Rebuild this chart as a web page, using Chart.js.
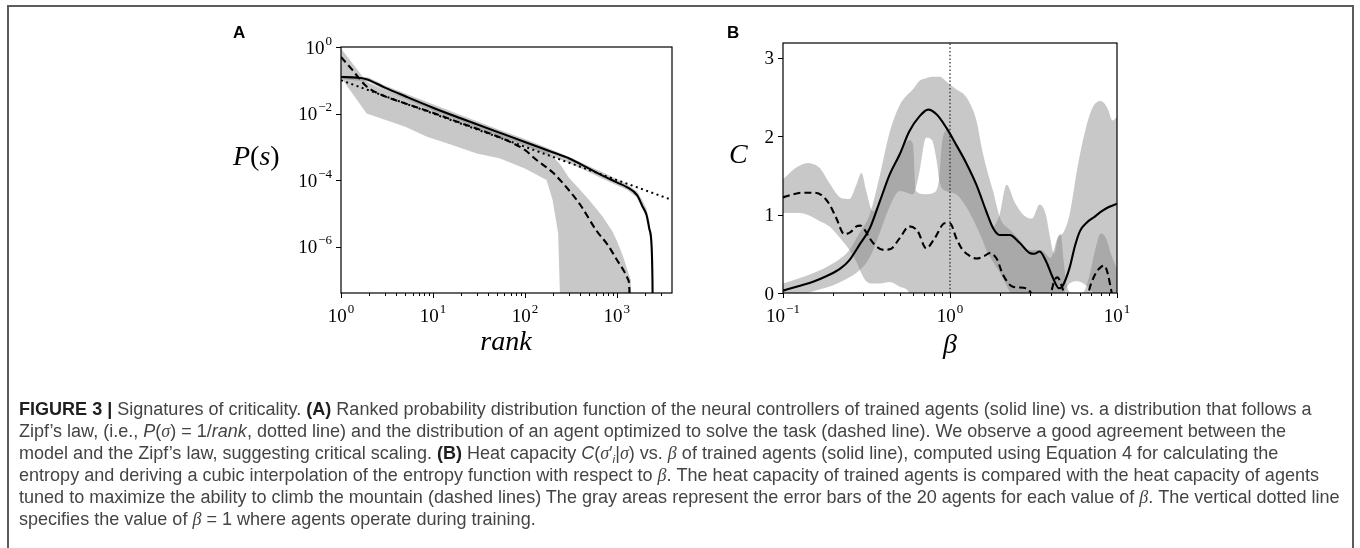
<!DOCTYPE html>
<html><head><meta charset="utf-8">
<script src="https://cdn.jsdelivr.net/npm/chart.js@4.4.1/dist/chart.umd.min.js"></script>
<style>
html,body{margin:0;padding:0;background:#fff;}
#page{position:relative;width:1360px;height:548px;overflow:hidden;background:#fff;}
#frame{position:absolute;left:7px;top:5px;width:1347px;height:620px;border:2px solid #5c5c5c;box-sizing:border-box;}
canvas{position:absolute;left:0;top:0;width:1360px;height:548px;}
.cap{position:absolute;left:19px;white-space:nowrap;font-family:"Liberation Sans",Arial,sans-serif;color:#444;line-height:22px;font-size:16px;}
.cap b{color:#1e1e1e;}
.cap .m{font-family:"Liberation Serif","DejaVu Serif",serif;font-style:italic;}
.cap sub{font-size:0.65em;line-height:0;vertical-align:-0.3em;}
</style></head>
<body><div id="page">
<div id="frame"></div>
<canvas id="cA" width="1360" height="548"></canvas>
<canvas id="cB" width="1360" height="548"></canvas>
<div class="cap" id="l1" style="top:398px"><b>FIGURE 3 |</b> Signatures of criticality. <b>(A)</b> Ranked probability distribution function of the neural controllers of trained agents (solid line) vs. a distribution that follows a</div>
<div class="cap" id="l2" style="top:420px">Zipf’s law, (i.e., <i>P</i>(<span class="m">σ</span>) = 1/<i>rank</i>, dotted line) and the distribution of an agent optimized to solve the task (dashed line). We observe a good agreement between the</div>
<div class="cap" id="l3" style="top:442px">model and the Zipf’s law, suggesting critical scaling. <b>(B)</b> Heat capacity <i>C</i>(<span class="m">σ</span>′<sub><i>i</i></sub>|<span class="m">σ</span>) vs. <span class="m">β</span> of trained agents (solid line), computed using Equation 4 for calculating the</div>
<div class="cap" id="l4" style="top:464px">entropy and deriving a cubic interpolation of the entropy function with respect to <span class="m">β</span>. The heat capacity of trained agents is compared with the heat capacity of agents</div>
<div class="cap" id="l5" style="top:486px">tuned to maximize the ability to climb the mountain (dashed lines) The gray areas represent the error bars of the 20 agents for each value of <span class="m">β</span>. The vertical dotted line</div>
<div class="cap" id="l6" style="top:508px">specifies the value of <span class="m">β</span> = 1 where agents operate during training.</div>
</div>
<script>
// ---------------- Panel A data ----------------
const rankSolid = [1, 1.5, 1.9, 3, 5, 10, 20, 50, 100, 200, 300, 500, 700, 1000, 1300, 1660, 1900, 2100, 2250, 2390, 2440, 2480];
const pSolid = [0.125, 0.12, 0.108, 0.06, 0.033, 0.015, 0.0072, 0.0028, 0.0014, 0.00068, 0.00045, 0.00022, 0.000135, 0.000085, 0.00006, 0.000035, 0.000016, 0.000009, 0.0000035, 0.000001, 0.0000001, 1e-9];
const rankDash = [1, 1.3, 1.9, 3, 5, 10, 20, 35, 69, 100, 134, 200, 300, 400, 600, 800, 1000, 1200, 1330, 1370, 1390];
const pDash = [0.5, 0.22, 0.065, 0.033, 0.02, 0.0105, 0.0052, 0.003, 0.0014, 0.0008, 0.0004, 0.00017, 0.00005, 0.000018, 0.000003, 0.0000011, 0.0000004, 0.00000018, 0.0000001, 0.00000005, 1e-9];
const zipfRank = [1, 4000];
const zipfP = [0.1, 0.000025];
const bandARank = [1, 1.9, 3, 5, 8.6, 15, 30, 53, 100, 172, 200, 230, 250, 300, 400, 500, 700, 900, 1000, 1170, 1300, 1420, 1450];
const bandAUpper = [0.9, 0.09, 0.05, 0.03, 0.018, 0.0105, 0.0052, 0.003, 0.0015, 0.0008, 0.0005, 0.00035, 0.00026, 0.00012, 0.00005, 0.000025, 0.000008, 0.0000028, 0.0000015, 0.0000005, 0.0000002, 0.0000001, 1e-9];
const bandALower = [0.12, 0.01, 0.0065, 0.004, 0.002, 0.0012, 0.00063, 0.00045, 0.00022, 0.0001, 0.000025, 0.0000025, 1e-9, 1e-9, 1e-9, 1e-9, 1e-9, 1e-9, 1e-9, 1e-9, 1e-9, 1e-9, 1e-9];
const bandSRank = [1, 2, 3, 5, 10, 20, 50, 100, 200, 300, 500, 700, 1000, 1300, 1660, 1900, 2100, 2250, 2390, 2440, 2480];
const bandSUpper = [0.14, 0.12, 0.07, 0.04, 0.019, 0.009, 0.0034, 0.0017, 0.0008, 0.0005, 0.00026, 0.00017, 0.000105, 0.000075, 0.000045, 0.000024, 0.000014, 0.000006, 0.0000018, 0.0000003, 1e-9];
const bandSLower = [0.11, 0.09, 0.05, 0.028, 0.012, 0.0058, 0.0022, 0.0011, 0.0005, 0.00033, 0.00017, 0.00011, 0.00007, 0.00005, 0.00003, 0.000015, 0.000008, 0.000003, 0.0000006, 0.00000005, 1e-9];
const rankTicks = [1, 10, 100, 1000];
const rankTickExp = ['0', '1', '2', '3'];
const pTicks = [1, 1e-2, 1e-4, 1e-6];
const pTickExp = ['0', '\u22122', '\u22124', '\u22126'];

// ---------------- Panel B data ----------------
const betaSolid = [0.1, 0.125, 0.15, 0.18, 0.22, 0.25, 0.288, 0.33, 0.38, 0.435, 0.5, 0.57, 0.66, 0.74, 0.83, 0.95, 1.09, 1.25, 1.44, 1.65, 1.81, 1.98, 2.28, 2.61, 3.0, 3.2, 3.44, 3.77, 4.14, 4.5, 4.75, 5.2, 5.6, 6.0, 6.6, 7.2, 8.2, 9.0, 10];
const cSolid = [0.03, 0.09, 0.14, 0.21, 0.31, 0.42, 0.62, 0.82, 1.17, 1.51, 1.77, 2.06, 2.26, 2.34, 2.28, 2.11, 1.89, 1.66, 1.38, 1.04, 0.83, 0.74, 0.74, 0.64, 0.51, 0.5, 0.53, 0.40, 0.19, 0.06, 0.1, 0.32, 0.6, 0.79, 0.9, 0.96, 1.05, 1.1, 1.14];
const betaDash = [0.1, 0.115, 0.13, 0.15, 0.17, 0.19, 0.208, 0.233, 0.255, 0.275, 0.29, 0.31, 0.33, 0.36, 0.4, 0.44, 0.5, 0.57, 0.64, 0.72, 0.81, 0.93, 1.0, 1.09, 1.18, 1.3, 1.44, 1.6, 1.73, 1.9, 2.08, 2.38, 2.87, 3.2, 3.6, 4.0, 4.2, 4.4, 4.65, 4.9, 5.5, 6.5, 7.0, 7.5, 8.0, 8.4, 8.8, 9.2, 9.5, 10];
const cDash = [1.22, 1.26, 1.28, 1.28, 1.25, 1.13, 0.96, 0.75, 0.78, 0.85, 0.86, 0.8, 0.7, 0.6, 0.55, 0.56, 0.7, 0.85, 0.79, 0.57, 0.7, 0.89, 0.89, 0.7, 0.56, 0.48, 0.44, 0.47, 0.51, 0.44, 0.23, 0.08, 0.06, -0.05, -0.1, -0.02, 0.15, 0.2, 0.1, -0.05, -0.2, -0.1, 0.12, 0.26, 0.33, 0.35, 0.25, 0.05, -0.1, -0.3];
const betaT = [0.1, 0.15, 0.2, 0.25, 0.29, 0.33, 0.38, 0.435, 0.5, 0.55, 0.6, 0.65, 0.72, 0.78, 0.83, 0.87, 0.95, 1.09, 1.25, 1.44, 1.55, 1.65, 1.81, 2.0, 2.3, 2.6, 3.0, 3.5, 4.0, 4.4, 4.8, 5.2, 5.8, 6.5, 7.2, 8.0, 8.8, 9.4, 10];
const tUpper = [0.12, 0.25, 0.38, 0.55, 0.78, 1.0, 1.5, 2.05, 2.4, 2.52, 2.6, 2.7, 2.74, 2.76, 2.76, 2.76, 2.7, 2.6, 2.5, 2.2, 1.85, 1.6, 1.3, 0.95, 0.8, 0.68, 0.55, 0.55, 0.45, 0.7, 0.78, 1.0, 1.6, 2.1, 2.38, 2.45, 2.35, 2.2, 2.25];
const tLower = [-0.1, 0.02, 0.1, 0.2, 0.3, 0.45, 0.77, 1.1, 1.3, 1.28, 1.26, 1.5, 1.98, 1.95, 1.7, 1.4, 1.3, 1.26, 1.1, 0.85, 0.7, 0.55, 0.4, 0.25, 0.0, -0.2, -0.3, -0.3, -0.3, -0.2, 0.0, 0.12, 0.15, 0.1, 0.0, -0.2, -0.3, -0.3, -0.3];
const betaU = [0.1, 0.12, 0.14, 0.165, 0.19, 0.22, 0.25, 0.275, 0.295, 0.315, 0.345, 0.38, 0.435, 0.5, 0.57, 0.6, 0.625, 0.7, 0.8, 0.86, 0.9, 0.97, 1.09, 1.25, 1.44, 1.65, 1.81, 1.98, 2.18, 2.45, 2.74, 3.1, 3.44, 3.75, 3.95, 4.2, 4.45, 4.6, 4.8, 5.0, 5.4, 6.2, 6.8, 7.4, 8.0, 8.6, 9.2, 10];
const uUpper = [1.45, 1.6, 1.66, 1.6, 1.4, 1.22, 1.2, 1.38, 1.53, 1.3, 1.04, 1.17, 1.5, 1.77, 1.95, 1.9, 1.3, 1.26, 1.28, 1.45, 1.95, 2.08, 1.88, 1.64, 1.36, 1.02, 0.85, 1.0, 1.38, 1.15, 1.0, 0.95, 1.13, 1.0, 0.74, 0.5, 0.72, 0.75, 0.4, 0.1, 0.0, 0.0, 0.2, 0.55, 0.76, 0.7, 0.5, 0.3];
const uLower = [1.02, 1.02, 1.0, 0.92, 0.85, 0.7, 0.55, 0.4, 0.25, 0.15, 0.12, 0.12, 0.14, 0.08, 0.0, -0.2, -0.2, -0.2, -0.2, -0.2, -0.2, -0.2, -0.2, -0.2, -0.2, -0.2, -0.2, -0.2, -0.2, -0.2, -0.2, -0.2, -0.2, -0.2, -0.2, -0.2, -0.2, -0.2, -0.2, -0.2, -0.2, -0.2, -0.2, -0.2, -0.2, -0.2, -0.2, -0.2];
const refBeta = [1, 1];
const refC = [0, 3.19];
const betaTicks = [0.1, 1, 10];
const betaTickExp = ['\u22121', '0', '1'];
const cTicks = [0, 1, 2, 3];
const cTickLabels = ['0', '1', '2', '3'];

// ---------------- helpers ----------------
const xy = (xs, ys) => xs.map((x, i) => ({x: x, y: ys[i]}));
const BAND = 'rgba(128,128,128,0.43)';
const NONE = 'rgba(0,0,0,0)';
const SERIF = '"Liberation Serif","DejaVu Serif",serif';

function logMinors(lo, hi) {
  const out = [];
  for (let d = Math.pow(10, Math.floor(Math.log10(lo))); d < hi; d *= 10) {
    for (let k = 2; k <= 9; k++) { const v = k * d; if (v > lo && v < hi) out.push(v); }
  }
  return out;
}

function drawNum(ctx, base, exp, x, yBase, align) {
  ctx.font = '19px ' + SERIF;
  const wb = ctx.measureText(base).width;
  let we = 0;
  if (exp) { ctx.font = '13px ' + SERIF; we = ctx.measureText(exp).width + 1; }
  const total = wb + we;
  const x0 = align === 'center' ? x - total / 2 : x - total;
  ctx.textAlign = 'left';
  ctx.textBaseline = 'alphabetic';
  ctx.font = '19px ' + SERIF;
  ctx.fillText(base, x0, yBase);
  if (exp) { ctx.font = '13px ' + SERIF; ctx.fillText(exp, x0 + wb + 1, yBase - 9); }
}

function drawPieces(ctx, pieces, x, yBase, size) {
  let cx = x;
  pieces.forEach(p => {
    ctx.font = (p[1] ? 'italic ' : '') + size + 'px ' + SERIF;
    ctx.textAlign = 'left';
    ctx.fillText(p[0], cx, yBase);
    cx += ctx.measureText(p[0]).width;
  });
}

function axesPlugin(spec) {
  return {
    id: 'axes' + spec.name,
    afterDraw(chart) {
      const ctx = chart.ctx, a = chart.chartArea, xs = chart.scales.x, ys = chart.scales.y;
      ctx.save();
      ctx.strokeStyle = '#000'; ctx.fillStyle = '#000';
      ctx.lineWidth = 1.2;
      ctx.strokeRect(a.left, a.top, a.right - a.left, a.bottom - a.top);
      ctx.lineWidth = 1;
      ctx.beginPath();
      spec.xMajor.forEach(v => { const p = Math.round(xs.getPixelForValue(v)) + 0.5; ctx.moveTo(p, a.bottom); ctx.lineTo(p, a.bottom + 5); });
      spec.xMinor.forEach(v => { const p = Math.round(xs.getPixelForValue(v)) + 0.5; ctx.moveTo(p, a.bottom); ctx.lineTo(p, a.bottom + 3); });
      spec.yMajor.forEach(v => { const p = Math.round(ys.getPixelForValue(v)) + 0.5; ctx.moveTo(a.left, p); ctx.lineTo(a.left - 5, p); });
      ctx.stroke();
      spec.xMajor.forEach((v, i) => drawNum(ctx, spec.xBase, spec.xExp[i], xs.getPixelForValue(v), a.bottom + 29, 'center'));
      spec.yMajor.forEach((v, i) => drawNum(ctx, spec.yBase ? spec.yBase : spec.yLab[i], spec.yBase ? spec.yExp[i] : '', a.left - 9, ys.getPixelForValue(v) + 6.5, 'right'));
      ctx.font = 'italic 28px ' + SERIF; ctx.textAlign = 'center';
      ctx.fillText(spec.xTitle, spec.xTitlePos[0], spec.xTitlePos[1]);
      drawPieces(ctx, spec.yTitle, spec.yTitlePos[0], spec.yTitlePos[1], 28);
      ctx.font = 'bold 17px "Liberation Sans",Arial,sans-serif'; ctx.textAlign = 'left';
      ctx.fillText(spec.letter, spec.letterPos[0], spec.letterPos[1]);
      ctx.restore();
    }
  };
}

const common = {
  responsive: false, animation: false, devicePixelRatio: 1, events: [],
  plugins: {legend: {display: false}, tooltip: {enabled: false}, title: {display: false}},
  elements: {point: {radius: 0}}
};

// ---------------- Chart A ----------------
new Chart(document.getElementById('cA'), {
  type: 'line',
  data: {datasets: [
    {label: 'Trained agents', data: xy(rankSolid, pSolid), borderColor: '#000', borderWidth: 2.1, fill: false, order: 0, cubicInterpolationMode: 'monotone'},
    {label: 'Optimized agent', data: xy(rankDash, pDash), borderColor: '#000', borderWidth: 2.1, borderDash: [7, 4], fill: false, order: 1, cubicInterpolationMode: 'monotone'},
    {label: 'Zipf 1/rank', data: xy(zipfRank, zipfP), borderColor: '#000', borderWidth: 2, borderDash: [2, 3.5], fill: false, order: 2},
    {label: 'trained upper', data: xy(bandSRank, bandSUpper), borderColor: NONE, borderWidth: 1, backgroundColor: BAND, fill: '+1', order: 3},
    {label: 'trained lower', data: xy(bandSRank, bandSLower), borderColor: NONE, borderWidth: 1, fill: false, order: 4},
    {label: 'optimized upper', data: xy(bandARank, bandAUpper), borderColor: NONE, borderWidth: 1, backgroundColor: BAND, fill: '+1', order: 5},
    {label: 'optimized lower', data: xy(bandARank, bandALower), borderColor: NONE, borderWidth: 1, fill: false, order: 6}
  ]},
  options: Object.assign({}, common, {
    layout: {padding: {left: 341, right: 1360 - 672, top: 47, bottom: 548 - 293}},
    scales: {
      x: {type: 'logarithmic', min: 1, max: 3981, display: false},
      y: {type: 'logarithmic', min: 4e-8, max: 1, display: false}
    }
  }),
  plugins: [axesPlugin({
    name: 'A', xMajor: rankTicks, xMinor: logMinors(1, 3981), xBase: '10', xExp: rankTickExp,
    yMajor: pTicks, yBase: '10', yExp: pTickExp,
    xTitle: 'rank', xTitlePos: [506, 350],
    yTitle: [['P', true], ['(', false], ['s', true], [')', false]], yTitlePos: [233, 165],
    letter: 'A', letterPos: [233, 38]
  })]
});

// ---------------- Chart B ----------------
new Chart(document.getElementById('cB'), {
  type: 'line',
  data: {datasets: [
    {label: 'Trained agents', data: xy(betaSolid, cSolid), borderColor: '#000', borderWidth: 2.1, fill: false, order: 0, cubicInterpolationMode: 'monotone'},
    {label: 'Tuned agents', data: xy(betaDash, cDash), borderColor: '#000', borderWidth: 2.1, borderDash: [7, 4], fill: false, order: 1, cubicInterpolationMode: 'monotone'},
    {label: 'beta = 1', data: xy(refBeta, refC), borderColor: '#222', borderWidth: 1.2, borderDash: [1.5, 2.2], fill: false, order: 2},
    {label: 'trained upper', data: xy(betaT, tUpper), borderColor: NONE, borderWidth: 1, backgroundColor: BAND, fill: '+1', order: 3, cubicInterpolationMode: 'monotone'},
    {label: 'trained lower', data: xy(betaT, tLower), borderColor: NONE, borderWidth: 1, fill: false, order: 4, cubicInterpolationMode: 'monotone'},
    {label: 'tuned upper', data: xy(betaU, uUpper), borderColor: NONE, borderWidth: 1, backgroundColor: BAND, fill: '+1', order: 5, cubicInterpolationMode: 'monotone'},
    {label: 'tuned lower', data: xy(betaU, uLower), borderColor: NONE, borderWidth: 1, fill: false, order: 6, cubicInterpolationMode: 'monotone'}
  ]},
  options: Object.assign({}, common, {
    layout: {padding: {left: 783, right: 1360 - 1117, top: 43, bottom: 548 - 293}},
    scales: {
      x: {type: 'logarithmic', min: 0.1, max: 10, display: false},
      y: {type: 'linear', min: 0, max: 3.19, display: false}
    }
  }),
  plugins: [axesPlugin({
    name: 'B', xMajor: betaTicks, xMinor: logMinors(0.1, 10), xBase: '10', xExp: betaTickExp,
    yMajor: cTicks, yBase: null, yLab: cTickLabels,
    xTitle: 'β', xTitlePos: [950, 353],
    yTitle: [['C', true]], yTitlePos: [729, 163],
    letter: 'B', letterPos: [727, 38]
  })]
});

// ---------------- caption sizing ----------------
(function fitCaption() {
  const caps = document.querySelectorAll('.cap');
  const w = document.getElementById('l5').getBoundingClientRect().width;
  const fs = 16 * 1321 / w;
  caps.forEach(c => { c.style.fontSize = fs.toFixed(2) + 'px'; });
})();
</script>
</body></html>
